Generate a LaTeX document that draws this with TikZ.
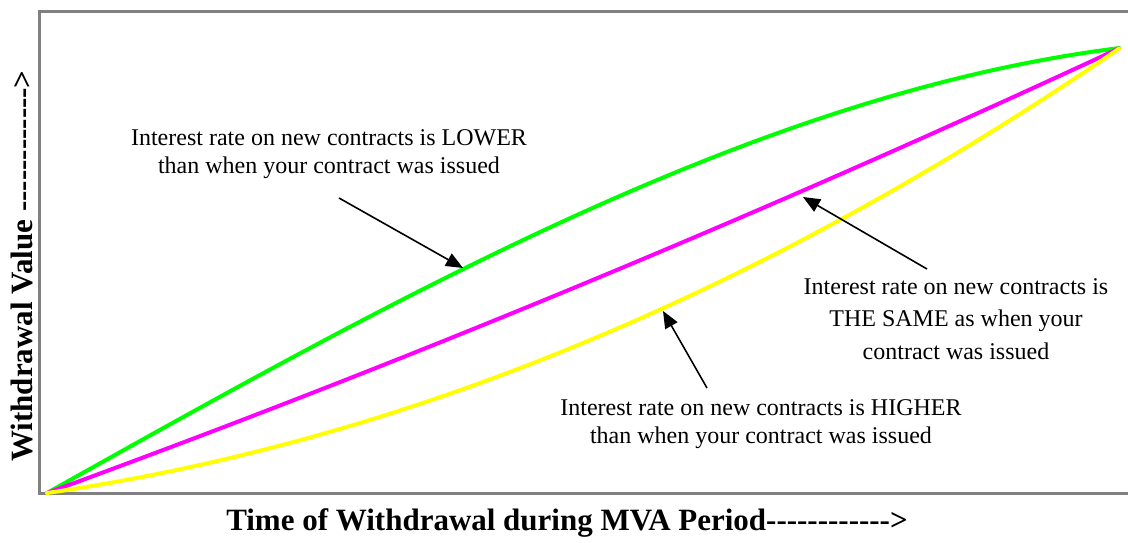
\documentclass[tikz,border=0pt]{standalone}
\usepackage{fontspec}
\setmainfont{Liberation Serif}
\usetikzlibrary{arrows.meta}
\definecolor{cgreen}{HTML}{00FF00}
\definecolor{cmag}{HTML}{FF00FF}
\definecolor{cyel}{HTML}{FFFF00}
\definecolor{frame}{HTML}{808080}
\tikzset{
  curve/.style={line width=4pt, line join=round, line cap=round},
  pointer/.style={line width=1.6pt, -{Triangle[length=17pt,width=14pt]}},
  note/.style={align=center, inner sep=0pt, font=\fontsize{24}{27.5}\selectfont},
  axislabel/.style={inner sep=0pt, font=\fontsize{31}{34}\selectfont\bfseries}
}
\begin{document}
\begin{tikzpicture}[x=1pt,y=-1pt]
\useasboundingbox (0,0) rectangle (1128,542);
\fill[white] (0,0) rectangle (1128,542);
\draw[frame, line width=3pt] (39,11) rectangle (1135,493);
% curves: x = 47 + 1073 t, y = 493 - 445 f(t)
\draw[curve, cgreen] plot[domain=0:1, samples=80, smooth] ({47+1073*\x}, {493-445*(1.35*\x-0.35*\x*\x*\x)});
\draw[curve, cmag] plot[domain=0:1, samples=80, smooth] ({47+1073*\x}, {493-445*(0.88*\x+0.12*\x*\x)});
\draw[curve, cyel] plot[domain=0:1, samples=80, smooth] ({47+1073*\x}, {493-445*(0.35*\x+0.65*\x*\x)});
% labels
\node[note] (lower) at (329,154) {Interest rate on new contracts is LOWER\\than when your contract was issued};
\node[note, font=\fontsize{24}{32.5}\selectfont] (same) at (956,319) {Interest rate on new contracts is\\THE SAME as when your\\contract was issued};
\node[note] (higher) at (761,424) {Interest rate on new contracts is HIGHER\\than when your contract was issued};
% arrows
\coordinate (t1) at (339,198);
\coordinate (h1) at (463,268);
\coordinate (t2) at (927,269);
\coordinate (h2) at (803,197);
\coordinate (t3) at (707,388);
\coordinate (h3) at (663,311);
\draw[pointer] (t1) -- (h1);
\draw[pointer] (t2) -- (h2);
\draw[pointer] (t3) -- (h3);
% axis labels
\node[axislabel] (xlab) at (567,523) {Time of Withdrawal during MVA Period-{}-{}-{}-{}-{}-{}-{}-{}-{}-{}-{}->};
\node[axislabel, rotate=90] (ylab) at (22,266) {Withdrawal Value -{}-{}-{}-{}-{}-{}-{}-{}-{}-{}-{}->};
\end{tikzpicture}
\end{document}
